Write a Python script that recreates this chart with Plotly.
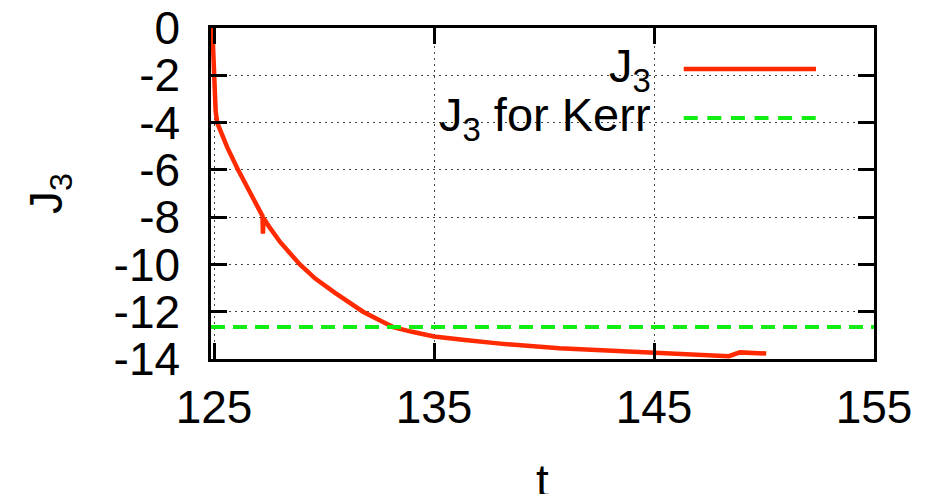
import plotly.graph_objects as go

# ---- data ----
t_vals = [124.92, 124.95, 124.98, 125.02, 125.07, 125.14, 125.3, 125.6, 126.09, 126.6,
          127.0, 127.2, 127.22, 127.25, 127.5, 128.0, 128.9, 129.6, 130.5, 131.0,
          131.77, 132.5, 133.14, 134.0, 135.0, 136.4, 138.0, 140.7, 143.0, 145.0,
          147.0, 148.4, 148.9, 149.5, 150.1]
j3_vals = [0.0, -1.0, -2.0, -2.9, -3.5, -4.0, -4.4, -5.05, -6.0, -6.9,
           -7.6, -7.95, -8.7, -8.05, -8.4, -9.05, -10.0, -10.6, -11.2, -11.5,
           -12.0, -12.35, -12.65, -12.85, -13.05, -13.2, -13.35, -13.55, -13.65, -13.71,
           -13.8, -13.88, -13.72, -13.75, -13.77]
kerr_j3 = -12.65
x_range = [124.86, 155]
y_range = [-14, 0]
x_ticks = [125, 135, 145, 155]
x_ticktext = ["125", "135", "145", "155"]
y_ticks = [0, -2, -4, -6, -8, -10, -12, -14]
y_ticktext = ["0", "-2", "-4", "-6", "-8", "-10", "-12", "-14"]
x_title = "t"
y_title = "J<sub>3</sub>"
legend_labels = ["J<sub>3</sub>", "J<sub>3</sub> for Kerr"]

RED = "#ff2a00"
GREEN = "#11ee11"
FONT = "Liberation Sans, Arial, Helvetica, sans-serif"

fig = go.Figure()
fig.add_trace(go.Scatter(x=t_vals, y=j3_vals, mode="lines",
                         line=dict(color=RED, width=4.5), showlegend=False))
fig.add_trace(go.Scatter(x=x_range, y=[kerr_j3, kerr_j3], mode="lines",
                         line=dict(color=GREEN, width=4, dash="14px,8px"),
                         showlegend=False))

axis_common = dict(
    showline=True, linecolor="black", linewidth=2.5, mirror="ticks",
    ticks="inside", ticklen=16, tickwidth=2.5, tickcolor="black",
    showgrid=True, gridcolor="#444444", gridwidth=1, griddash="2px,4px",
    zeroline=False, automargin=False,
    tickfont=dict(size=46, color="black", family=FONT),
)

fig.update_xaxes(range=x_range, tickvals=x_ticks, ticktext=x_ticktext, ticklabelstandoff=6,
                 **axis_common)
fig.update_yaxes(range=y_range, tickvals=y_ticks, ticktext=y_ticktext, ticklabelstandoff=19,
                 title=dict(text=y_title, font=dict(size=46, color="black", family=FONT),
                            standoff=37),
                 **axis_common)

# x-axis title placed like the gnuplot original (partly below the page edge)
fig.add_annotation(xref="paper", yref="paper", x=0.5, y=-0.285, text=x_title,
                   showarrow=False, xanchor="center", yanchor="top",
                   font=dict(size=46, color="black", family=FONT))

# legend (key box drawn like gnuplot: opaque area, right-aligned labels)
fig.add_shape(type="rect", xref="paper", yref="paper", x0=0.152, x1=0.956, y0=0.662, y1=0.995,
              fillcolor="white", line=dict(width=0), layer="between")
legend_y = [0.876, 0.728]
legend_styles = [dict(color=RED, width=4.5), dict(color=GREEN, width=4, dash="14px,9.6px")]
for lab, yy, st in zip(legend_labels, legend_y, legend_styles):
    fig.add_shape(type="line", xref="paper", yref="paper", x0=0.713, x1=0.9125, y0=yy, y1=yy,
                  line=st)
    fig.add_annotation(xref="paper", yref="paper", x=0.667, y=yy, text=lab, showarrow=False,
                       xanchor="right", yanchor="middle",
                       font=dict(size=47, color="black", family=FONT))

fig.update_layout(
    width=931, height=494,
    margin=dict(l=211, r=57, t=28, b=135),
    paper_bgcolor="white", plot_bgcolor="white",
    font=dict(family=FONT, color="black"),
)

fig.write_html("out.html", config={"displayModeBar": False},
               post_script="document.body.style.margin='0px';")
